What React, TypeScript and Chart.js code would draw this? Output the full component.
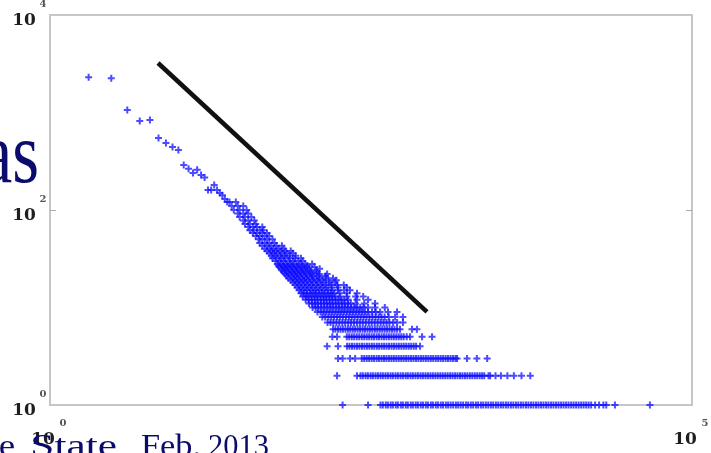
import { useEffect, useRef } from "react";
import { Chart, registerables } from "chart.js";

Chart.register(...registerables);

// Axis extents and tick labels (exponents of 10)
const xMin = 1;
const xMax = 100000;
const yMin = 1;
const yMax = 10000;
const xTickExponents = [0, 5];
const yTickExponents = [0, 2, 4];
const yMinorTickValues = [100];

// Sparse high-count points (degree, count)
const singleDegrees = [2, 3, 4, 5, 6, 7, 8, 9, 10, 11, 12, 13, 14, 15, 16, 17, 18, 19, 20, 21, 22, 23, 24];
const singleCounts = [2300, 2250, 1060, 820, 840, 547, 486, 442, 412, 290, 265, 240, 258, 228, 215, 160, 160, 180, 160, 149, 142, 130, 121];

// Low-count horizontal rows: degrees having that count
const count1Degrees = [190, 300, 375, 391, 412, 428, 450, 468, 493, 512, 540, 560, 590, 612, 645, 670, 705, 733, 772, 803, 845, 878, 925, 960, 1010, 1050, 1105, 1150, 1210, 1260, 1320, 1380, 1450, 1510, 1580, 1650, 1735, 1805, 1895, 1975, 2075, 2160, 2270, 2365, 2480, 2590, 2715, 2830, 2970, 3100, 3250, 3390, 3555, 3710, 3890, 4060, 4255, 4440, 4655, 4860, 5095, 5320, 5570, 5820, 6100, 6370, 6670, 6970, 7300, 7620, 7985, 8340, 8740, 9130, 9560, 9990, 10460, 10930, 11450, 11960, 12520, 13090, 13700, 14320, 14990, 15670, 16400, 17600, 18900, 20400, 21500, 25100, 47000];
const count2Degrees = [172, 246, 262, 273, 287, 299, 314, 327, 343, 358, 375, 391, 410, 428, 449, 468, 491, 512, 537, 560, 588, 612, 642, 670, 702, 733, 768, 802, 840, 877, 918, 958, 1003, 1047, 1096, 1144, 1197, 1250, 1308, 1366, 1429, 1492, 1561, 1630, 1705, 1780, 1862, 1945, 2034, 2125, 2222, 2320, 2410, 2600, 2680, 2950, 3250, 3650, 4100, 4700, 5500];
const count3Degrees = [175, 190, 217, 238, 268, 280, 293, 306, 320, 334, 350, 365, 382, 399, 417, 436, 456, 476, 498, 520, 544, 568, 594, 620, 649, 678, 709, 740, 774, 809, 846, 884, 924, 965, 1010, 1055, 1103, 1152, 1205, 1258, 1316, 1374, 1437, 1480, 1770, 2110, 2540];
const count4Degrees = [144, 175, 206, 215, 225, 235, 246, 257, 269, 281, 294, 307, 321, 335, 351, 366, 383, 400, 418, 437, 457, 477, 499, 521, 545, 569, 595, 622, 650, 680, 710, 762];
const count5Degrees = [158, 172, 205, 214, 224, 234, 245, 256, 268, 280, 293, 306, 320, 334, 350, 365, 382, 399, 417, 436, 456, 476, 498, 520, 544, 568, 600, 637, 790, 945];
const count6Degrees = [160, 167, 175, 183, 191, 200, 209, 218, 228, 238, 249, 260, 272, 284, 297, 310, 324, 339, 354, 370, 387, 404, 422, 441, 461, 482, 505, 532, 660, 720];

// Denser cloud: [count, degrees]
const cloudRows: [number, number[]][] = [
  [7, [145, 153, 161, 170, 179, 189, 199, 210, 221, 233, 246, 259, 273, 288, 304, 320, 338, 356, 376, 396, 418, 440, 470, 505, 561]],
  [8, [132, 139, 147, 155, 163, 172, 181, 191, 202, 213, 224, 236, 249, 263, 277, 292, 308, 325, 343, 362, 382, 404, 435, 487, 560]],
  [9, [121, 128, 135, 142, 150, 158, 167, 176, 185, 195, 206, 217, 229, 242, 255, 269, 284, 300, 322, 345, 372, 429, 504]],
  [10, [111, 117, 123, 130, 137, 145, 153, 161, 170, 179, 189, 199, 210, 222, 234, 247, 261, 276, 300, 340, 405]],
  [11, [104, 110, 116, 122, 129, 136, 143, 151, 159, 168, 177, 187, 197, 208, 220, 240, 280, 340]],
  [12, [98, 103, 109, 115, 121, 128, 135, 142, 150, 158, 167, 176, 186, 196, 210, 246, 300]],
  [13, [93, 98, 103, 109, 115, 121, 128, 135, 142, 150, 158, 167, 182, 205, 240, 275]],
  [14, [90, 95, 100, 106, 112, 118, 124, 131, 138, 146, 154, 163, 180, 205, 246]],
  [15, [87, 93, 100, 108, 116, 125, 135, 146, 158, 175, 195, 217]],
  [16, [84, 90, 97, 104, 112, 121, 131, 142, 156, 175, 205]],
  [17, [81, 87, 94, 101, 109, 118, 128, 140, 155, 172, 194]],
  [18, [78, 84, 90, 97, 105, 113, 123, 135, 150, 166]],
  [19, [75, 81, 87, 94, 101, 110, 120, 132, 148, 170]],
  [20, [72, 78, 84, 91, 98, 106, 115, 126, 140, 160]],
  [21, [70, 76, 82, 88, 95, 103, 112, 124, 140]],
  [22, [68, 73, 79, 85, 92, 100, 110, 125, 144]],
  [23, [66, 71, 77, 83, 90, 98, 108, 120]],
  [24, [64, 69, 75, 81, 88, 96, 106, 118]],
  [25, [63, 68, 73, 79, 86, 94, 104, 126]],
  [26, [61, 66, 71, 77, 84, 92, 100, 115]],
  [27, [60, 65, 70, 76, 83, 91, 101]],
  [28, [59, 63, 68, 74, 80, 88, 97, 110]],
  [30, [57, 61, 66, 72, 78, 86, 93]],
  [32, [54, 58, 63, 68, 74, 81, 90]],
  [34, [53, 57, 62, 67, 73, 82]],
  [36, [51, 55, 59, 64, 70, 78]],
  [38, [49, 53, 57, 62, 68, 75]],
  [40, [47, 51, 55, 60, 66]],
  [43, [45, 49, 53, 58, 64]],
  [46, [43, 47, 51, 56]],
  [50, [42, 45, 49, 54]],
  [54, [40, 43, 47, 51]],
  [58, [38, 41, 45, 49]],
  [62, [36, 39, 43, 46]],
  [67, [35, 38, 41, 45]],
  [72, [33, 36, 40]],
  [78, [32, 35, 39]],
  [85, [30, 33, 37]],
  [92, [29, 32, 35]],
  [100, [27, 30, 34]],
  [110, [26, 29, 32]],
  [121, [25, 28]],
];

// Reference power-law line
const fitDegrees = [6.94, 863];
const fitCounts = [3220, 9];

const titleFragment = "as";
const footerWords = ["e", "State,", "Feb.", "2013"];

function buildPoints() {
  const pts: { x: number; y: number }[] = [];
  singleDegrees.forEach((d, i) => pts.push({ x: d, y: singleCounts[i] }));
  const rows: [number, number[]][] = [
    [1, count1Degrees],
    [2, count2Degrees],
    [3, count3Degrees],
    [4, count4Degrees],
    [5, count5Degrees],
    [6, count6Degrees],
    ...cloudRows,
  ];
  rows.forEach(([c, ds]) => ds.forEach((d) => pts.push({ x: d, y: c })));
  return pts;
}

// left edge and ink width of each footer word
const footerSpans: [number, number][] = [[0, 15], [33, 92], [141, 58], [209, 59]];

const decorPlugin = {
  id: "decor",
  beforeDatasetsDraw(chart: any) {
    const { ctx, chartArea: a } = chart;
    ctx.save();
    ctx.strokeStyle = "#c6c6c6";
    ctx.lineWidth = 2;
    ctx.strokeRect(a.left, a.top, a.right - a.left, a.bottom - a.top);
    ctx.strokeStyle = "#aaaaaa";
    ctx.lineWidth = 1;
    yMinorTickValues.forEach((v) => {
      const yp = Math.round(chart.scales.y.getPixelForValue(v)) + 0.5;
      ctx.beginPath();
      ctx.moveTo(a.left, yp);
      ctx.lineTo(a.left + 6, yp);
      ctx.moveTo(a.right, yp);
      ctx.lineTo(a.right - 6, yp);
      ctx.stroke();
    });
    ctx.restore();
  },
  afterDraw(chart: any) {
    const { ctx } = chart;
    const xs = chart.scales.x;
    const ys = chart.scales.y;
    ctx.save();
    ctx.textAlign = "center";
    ctx.textBaseline = "middle";
    yTickExponents.forEach((e) => {
      const yp = ys.getPixelForValue(Math.pow(10, e));
      ctx.fillStyle = "#1e1e1e";
      ctx.font = 'bold 17px "DejaVu Serif"';
      ctx.fillText("10", 24, yp + 6);
      ctx.fillStyle = "#555555";
      ctx.font = 'bold 10px "DejaVu Serif"';
      ctx.fillText(String(e), 43, yp - 11);
    });
    xTickExponents.forEach((e) => {
      const xp = xs.getPixelForValue(Math.pow(10, e));
      ctx.fillStyle = "#1e1e1e";
      ctx.font = 'bold 17px "DejaVu Serif"';
      ctx.fillText("10", xp - 7, 440);
      ctx.fillStyle = "#555555";
      ctx.font = 'bold 10px "DejaVu Serif"';
      ctx.fillText(String(e), xp + 13, 423);
    });
    // slide text fragments
    ctx.fillStyle = "#0b0b6b";
    ctx.textBaseline = "alphabetic";
    ctx.textAlign = "left";
    ctx.font = '32px "Liberation Serif"';
    footerWords.forEach((w, i) => {
      const [left, width] = footerSpans[i];
      const m = ctx.measureText(w);
      const ink = m.actualBoundingBoxRight + m.actualBoundingBoxLeft;
      ctx.save();
      ctx.translate(left, 456);
      ctx.scale(width / ink, 1);
      ctx.fillText(w, m.actualBoundingBoxLeft, 0);
      ctx.restore();
    });
    ctx.save();
    ctx.translate(39, 182);
    ctx.scale(0.8, 1);
    ctx.textAlign = "right";
    ctx.font = '86px "Liberation Serif"';
    ctx.fillText(titleFragment, 0, 0);
    ctx.restore();
    ctx.restore();
  },
};

export default function App() {
  const canvasRef = useRef<HTMLCanvasElement | null>(null);

  useEffect(() => {
    const canvas = canvasRef.current;
    if (!canvas) return;
    const chart = new Chart(canvas, {
      type: "scatter",
      data: {
        datasets: [
          {
            data: buildPoints(),
            pointStyle: "cross",
            pointRadius: 3.5,
            pointBorderWidth: 2,
            pointBorderColor: "rgba(15,15,255,0.75)",
            pointBackgroundColor: "rgba(15,15,255,0.75)",
            clip: false,
          } as any,
          {
            data: fitDegrees.map((d, i) => ({ x: d, y: fitCounts[i] })),
            showLine: true,
            borderColor: "#111111",
            borderWidth: 4.5,
            borderCapStyle: "butt",
            pointRadius: 0,
          } as any,
        ],
      },
      options: {
        animation: false,
        responsive: false,
        devicePixelRatio: 1,
        events: [],
        layout: { padding: { left: 50, top: 15, right: 19, bottom: 48 } },
        plugins: { legend: { display: false }, tooltip: { enabled: false } },
        scales: {
          x: { type: "logarithmic", min: xMin, max: xMax, display: false },
          y: { type: "logarithmic", min: yMin, max: yMax, display: false },
        },
      },
      plugins: [decorPlugin],
    });
    return () => chart.destroy();
  }, []);

  return (
    <div style={{ position: "absolute", left: 0, top: 0, width: 711, height: 453, background: "#fff" }}>
      <canvas ref={canvasRef} width={711} height={453} style={{ display: "block" }} />
    </div>
  );
}
